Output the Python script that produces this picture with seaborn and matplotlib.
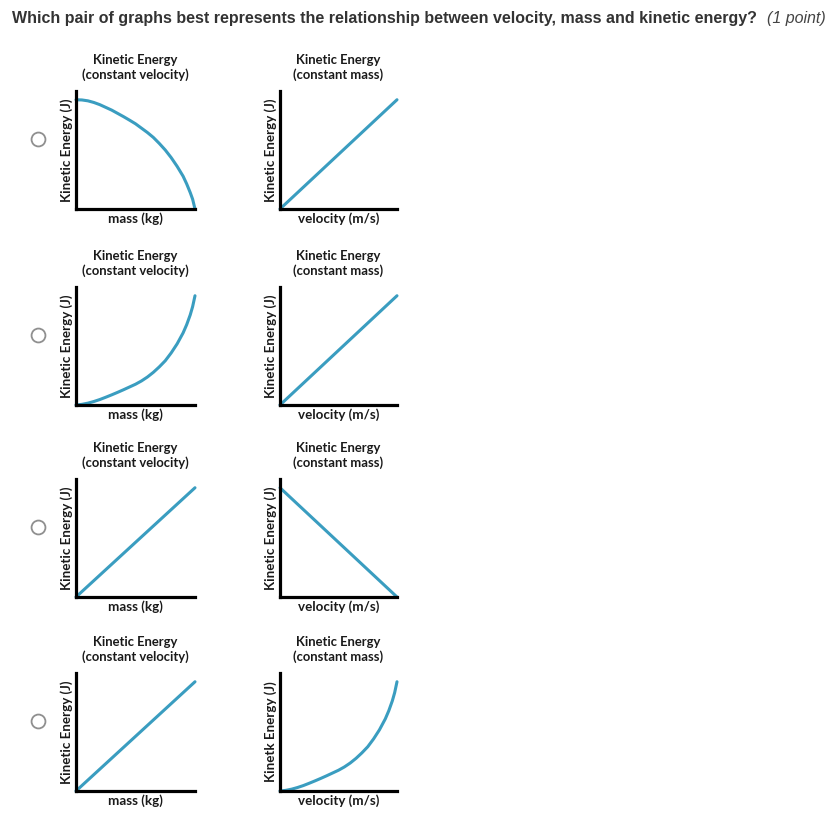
import matplotlib
matplotlib.use("Agg")
import matplotlib.pyplot as plt
import seaborn as sns
import pandas as pd

# --- data (fraction of the curve's top value) ---
x_pts = [0, .05, .1, .15, .2, .25, .3, .35, .4, .45, .5, .55, .6, .65, .7,
         .75, .8, .85, .9, .93, .96, .98, 1.0]
falling_curve = [1.0, .998, .99, .975, .955, .93, .905, .875, .845, .813, .78, .74,
                 .70, .655, .60, .54, .47, .39, .30, .23, .15, .09, 0.0]
rising_curve = [0.0, .006, .017, .032, .050, .071, .093, .116, .140, .165, .19, .22,
                .256, .299, .349, .405, .477, .56, .66, .735, .825, .90, 1.0]
line_x = [0, 1.0]
line_up = [0, 1.0]
line_down = [1.0, 0]

question = "Which pair of graphs best represents the relationship between velocity, mass and kinetic energy?"
points = "(1 point)"
title_left = "Kinetic Energy\n(constant velocity)"
title_right = "Kinetic Energy\n(constant mass)"
xlabel_left = "mass (kg)"
xlabel_right = "velocity (m/s)"
ylabels_left = ["Kinetic Energy (J)"] * 4
ylabels_right = ["Kinetic Energy (J)", "Kinetic Energy (J)", "Kinetic Energy (J)", "Kinetk Energy (J)"]

# each answer option: (left graph x, y), (right graph x, y)
options = [
    ((x_pts, falling_curve), (line_x, line_up)),
    ((x_pts, rising_curve), (line_x, line_up)),
    ((line_x, line_up), (line_x, line_down)),
    ((line_x, line_up), (x_pts, rising_curve)),
]

sns.set_style("white")
plt.rcParams["font.family"] = ["Lato", "DejaVu Sans"]

W, H = 838, 816
fig = plt.figure(figsize=(W / 100, H / 100), dpi=100)

curve_color = "#3a9dc0"
row_tops = [91, 287, 479, 673]
ax_h = 118
cols = [(76, 119), (280, 117)]

# overlay in pixel coordinates for the question text and radio buttons
over = fig.add_axes([0, 0, 1, 1])
over.set_xlim(0, W)
over.set_ylim(H, 0)
over.axis("off")
over.text(12, 18, question, fontsize=11.5, fontweight="bold", color="#333333",
          family=["Liberation Sans", "DejaVu Sans"], va="center", ha="left")
over.text(767, 18, points, fontsize=11.5, style="italic", color="#444444",
          family=["Liberation Sans", "DejaVu Sans"], va="center", ha="left")

for i, (left, right) in enumerate(options):
    top = row_tops[i]
    over.plot([38], [top + 48], marker="o", markersize=10, markerfacecolor="white",
              markeredgecolor="#8f8f8f", markeredgewidth=1.3, linestyle="none")
    for j, (xs, ys) in enumerate([left, right]):
        x0, w = cols[j]
        ax = fig.add_axes([x0 / W, 1 - (top + ax_h) / H, w / W, ax_h / H])
        df = pd.DataFrame({"x": xs, "y": ys})
        sns.lineplot(data=df, x="x", y="y", ax=ax, color=curve_color, linewidth=2.2,
                     clip_on=False, sort=False)
        ax.set_xlim(0, 1)
        ax.set_ylim(0, 1.08)
        ax.set_xticks([])
        ax.set_yticks([])
        sns.despine(ax=ax)
        for s in ["left", "bottom"]:
            ax.spines[s].set_linewidth(2.3)
            ax.spines[s].set_color("black")
            ax.spines[s].set_capstyle("projecting")
        ax.set_title(title_left if j == 0 else title_right, fontsize=9.4,
                     fontweight="bold", pad=9, linespacing=1.2, color="#1a1a1a")
        ax.set_xlabel(xlabel_left if j == 0 else xlabel_right, fontsize=9.6,
                      fontweight="bold", labelpad=2.5, color="#1a1a1a")
        ax.set_ylabel(ylabels_left[i] if j == 0 else ylabels_right[i], fontsize=9.6,
                      fontweight="bold", labelpad=2, color="#1a1a1a")
        ax.patch.set_alpha(0)

fig.savefig("out.png", dpi=100)
